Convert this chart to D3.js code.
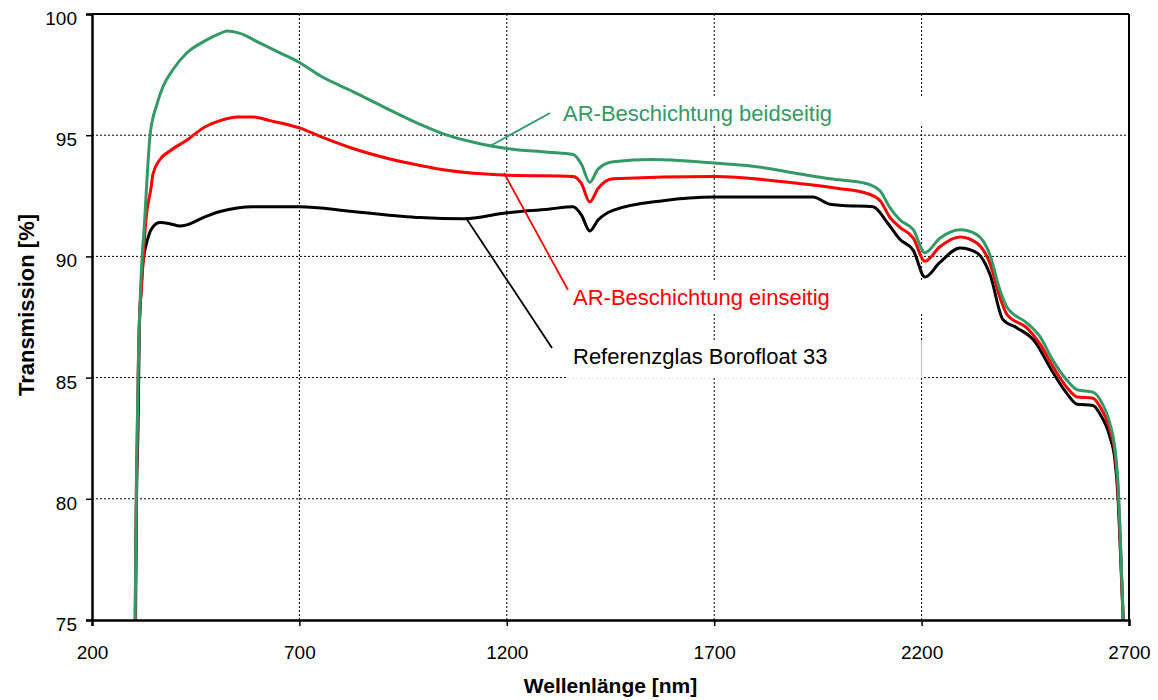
<!DOCTYPE html>
<html><head><meta charset="utf-8">
<script src="https://cdn.jsdelivr.net/npm/d3@7"></script>
<style>body{margin:0;background:#fff}svg{display:block}text{font-family:"Liberation Sans",Arial,sans-serif}</style>
</head><body>
<svg id="c" width="1158" height="700"></svg>
<script>
const xTicks = [200, 700, 1200, 1700, 2200, 2700];
const yTicks = [75, 80, 85, 90, 95, 100];

const greenWl = [304,307,311,316,320,327,333,340,357,371,395,429,468,509,525,557,605,653,700,750,829,911,991,1056,1135,1200,1300,1360,1380,1400,1420,1456,1552,1700,1779,1907,1979,2068,2100,2124,2148,2180,2208,2244,2293,2333,2365,2389,2406,2454,2485,2517,2550,2575,2613,2630,2654,2666,2673,2680,2686];
const greenT  = [75,80.5,85,88.2,89.7,91.5,93.3,95.0,96.3,97.0,97.7,98.4,98.85,99.2,99.3,99.2,98.8,98.4,98.0,97.45,96.8,96.1,95.45,95.0,94.65,94.45,94.3,94.2,93.8,93.05,93.6,93.9,94.0,93.85,93.75,93.4,93.2,93.0,92.7,92.0,91.5,91.1,90.15,90.75,91.1,90.9,90.05,88.6,87.9,87.25,86.7,85.7,84.9,84.5,84.4,84.1,83.1,82.1,80.8,78,75];

const redWl = [304,307,313,320,330,342,347,364,388,429,468,509,550,588,629,700,750,829,911,991,1056,1200,1360,1380,1400,1420,1456,1700,1907,2000,2068,2100,2124,2148,2180,2208,2244,2293,2333,2365,2389,2406,2454,2485,2517,2550,2575,2613,2630,2654,2666,2673,2680,2686];
const redT  = [75,80.5,86.8,88.9,91.5,92.8,93.4,94.0,94.35,94.8,95.3,95.6,95.75,95.75,95.6,95.3,94.95,94.45,94.05,93.75,93.55,93.35,93.3,93.0,92.25,92.8,93.2,93.3,93.0,92.8,92.6,92.3,91.6,91.2,90.75,89.8,90.4,90.8,90.55,89.7,88.3,87.6,87.05,86.4,85.45,84.6,84.2,84.15,83.8,82.85,81.9,80.5,77.8,75];

const blackWl = [305,307,311,314,318,322,334,346,364,388,412,429,468,509,550,588,700,829,991,1095,1200,1300,1360,1380,1400,1420,1456,1577,1700,1938,1979,2011,2083,2117,2148,2180,2208,2244,2293,2333,2365,2396,2430,2470,2517,2550,2575,2613,2630,2654,2666,2673,2680,2686];
const blackT  = [75,79.5,83,86.8,88.5,89.6,90.7,91.2,91.4,91.35,91.25,91.3,91.6,91.85,92.0,92.05,92.05,91.85,91.6,91.55,91.8,91.95,92.05,91.7,91.05,91.5,91.9,92.3,92.45,92.45,92.15,92.1,92.05,91.4,90.7,90.25,89.15,89.75,90.35,90.15,89.25,87.4,87.05,86.55,85.2,84.35,83.9,83.85,83.5,82.55,81.6,80.2,77.5,75];

const seriesNames = ["Referenzglas Borofloat 33", "AR-Beschichtung einseitig", "AR-Beschichtung beidseitig"];
const seriesColors = ["#000000", "#ff0000", "#339966"];

const svg = d3.select("#c");
const L = 92, R = 1129, T = 14, B = 620;
const x = d3.scaleLinear().domain([200, 2700]).range([L, R]);
const y = d3.scaleLinear().domain([75, 100]).range([B, T]);

// gridlines
const grid = svg.append("g");
grid.selectAll(".gx").data(xTicks.slice(1, -1)).join("line")
  .attr("x1", d => x(d)).attr("x2", d => x(d)).attr("y1", T).attr("y2", B)
  .attr("stroke", "#000").attr("stroke-width", 1).attr("stroke-dasharray", "2,2");
grid.selectAll(".gy").data(yTicks.slice(1, -1)).join("line")
  .attr("x1", L).attr("x2", R).attr("y1", d => y(d)).attr("y2", d => y(d))
  .attr("stroke", "#000").attr("stroke-width", 1).attr("stroke-dasharray", "2,2");

// label boxes (white, cover gridlines)
const boxes = [[548, 97, 377, 28], [565, 280, 360, 33], [568, 340, 356, 38]];
svg.selectAll(".box").data(boxes).join("rect")
  .attr("x", d => d[0]).attr("y", d => d[1]).attr("width", d => d[2]).attr("height", d => d[3])
  .attr("fill", "#fff");
svg.append("line").attr("x1", x(2200)).attr("x2", x(2200)).attr("y1", 340).attr("y2", 378)
  .attr("stroke", "#aaa").attr("stroke-width", 0.8);

// curves
const data = [
  blackWl.map((w, i) => [w, blackT[i]]),
  redWl.map((w, i) => [w, redT[i]]),
  greenWl.map((w, i) => [w, greenT[i]])
];
const line = d3.line().x(d => x(d[0])).y(d => y(d[1])).curve(d3.curveMonotoneX);
svg.append("g").selectAll("path").data(data).join("path")
  .attr("d", line).attr("fill", "none")
  .attr("stroke", (d, i) => seriesColors[i]).attr("stroke-width", 3).attr("stroke-linejoin", "round");

// frame: top and right
svg.append("line").attr("x1", L).attr("x2", R).attr("y1", T).attr("y2", T).attr("stroke", "#000").attr("stroke-width", 2);
svg.append("line").attr("x1", R).attr("x2", R).attr("y1", T).attr("y2", B).attr("stroke", "#000").attr("stroke-width", 2);

// axes
const xAxis = svg.append("g").attr("transform", `translate(0,${B})`)
  .call(d3.axisBottom(x).tickValues(xTicks).tickSize(6).tickPadding(20).tickFormat(d3.format("d")));
const yAxis = svg.append("g").attr("transform", `translate(${L},0)`)
  .call(d3.axisLeft(y).tickValues(yTicks).tickSize(6).tickPadding(9).tickFormat(d3.format("d")));
[xAxis, yAxis].forEach(a => {
  a.select(".domain").attr("stroke-width", 2.5);
  a.selectAll(".tick line").attr("stroke-width", 1.5);
  a.selectAll("text").attr("font-size", 19).attr("font-family", '"Liberation Sans",Arial,sans-serif').attr("fill", "#000");
});
yAxis.selectAll("text").attr("dy", "0.55em");

// axis titles
svg.append("text").attr("x", (L + R) / 2).attr("y", 693).attr("text-anchor", "middle")
  .attr("font-size", 21).attr("font-weight", "bold").text("Wellenlänge [nm]");
svg.append("text").attr("transform", "translate(34,305) rotate(-90)").attr("text-anchor", "middle")
  .attr("font-size", 22).attr("font-weight", "bold").text("Transmission [%]");

// leader lines and labels
const leaders = [[552, 348, 466, 218], [568, 290, 504, 173], [550, 113, 490, 146]];
svg.selectAll(".lead").data(leaders).join("line")
  .attr("x1", d => d[0]).attr("y1", d => d[1]).attr("x2", d => d[2]).attr("y2", d => d[3])
  .attr("stroke", (d, i) => seriesColors[i]).attr("stroke-width", 1.8);
const labelPos = [[573, 364], [573, 305], [563, 121]];
svg.selectAll(".lbl").data(seriesNames).join("text")
  .attr("x", (d, i) => labelPos[i][0]).attr("y", (d, i) => labelPos[i][1])
  .attr("font-size", 22).attr("fill", (d, i) => seriesColors[i]).text(d => d);
</script>
</body></html>
